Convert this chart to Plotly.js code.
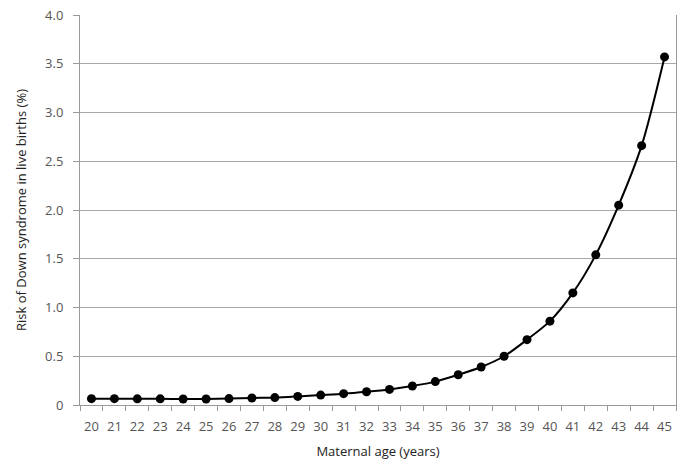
<!DOCTYPE html>
<html>
<head>
<meta charset="utf-8">
<script src="https://cdn.plot.ly/plotly-3.0.1.min.js"></script>
<style>html,body{margin:0;padding:0;background:#fff;}#chart{width:700px;height:473px;}</style>
</head>
<body>
<div id="chart"></div>
<script>
const ages = ["20","21","22","23","24","25","26","27","28","29","30","31","32","33","34","35","36","37","38","39","40","41","42","43","44","45"];
const risk = [0.065,0.065,0.063,0.063,0.062,0.062,0.066,0.072,0.076,0.088,0.102,0.116,0.136,0.16,0.195,0.24,0.31,0.39,0.50,0.67,0.86,1.15,1.54,2.05,2.66,3.57];
const yTickVals = [0,0.5,1,1.5,2,2.5,3,3.5,4];
const yTickText = ["0","0.5","1.0","1.5","2.0","2.5","3.0","3.5","4.0"];

const trace = {
  x: ages, y: risk, type: 'scatter', mode: 'lines+markers',
  line: {color: '#000', width: 2, shape: 'spline', smoothing: 0.8},
  marker: {color: '#000', size: 9},
  cliponaxis: false,
  hoverinfo: 'skip'
};
const layout = {
  width: 700, height: 473,
  margin: {l: 80, r: 24, t: 15, b: 68},
  paper_bgcolor: '#fff', plot_bgcolor: '#fff',
  font: {family: '"Open Sans", sans-serif', color: '#555', size: 12},
  showlegend: false,
  xaxis: {
    type: 'category',
    range: [-0.5, ages.length - 0.5],
    tickson: 'boundaries',
    tickangle: 0,
    ticks: 'outside', ticklen: 5, tickcolor: '#999', tickwidth: 1,
    ticklabelstandoff: 9,
    showline: true, linecolor: '#999', linewidth: 1,
    showgrid: false, zeroline: false,
    tickfont: {size: 13, color: '#555'},
    title: {text: 'Maternal age (years)', font: {size: 13, color: '#222'}, standoff: 13}
  },
  yaxis: {
    range: [0, 4],
    tickvals: yTickVals, ticktext: yTickText,
    ticks: 'outside', ticklen: 6, tickcolor: '#999', tickwidth: 1,
    ticklabelstandoff: 7,
    showline: true, linecolor: '#999', linewidth: 1, mirror: true,
    showgrid: true, gridcolor: '#a8a8a8', gridwidth: 1,
    zeroline: false,
    tickfont: {size: 13, color: '#555'},
    title: {text: 'Risk of Down syndrome in live births (%)', font: {size: 13, color: '#222'}, standoff: 15}
  }
};
Plotly.newPlot('chart', [trace], layout, {displayModeBar: false, staticPlot: true});
</script>
</body>
</html>
